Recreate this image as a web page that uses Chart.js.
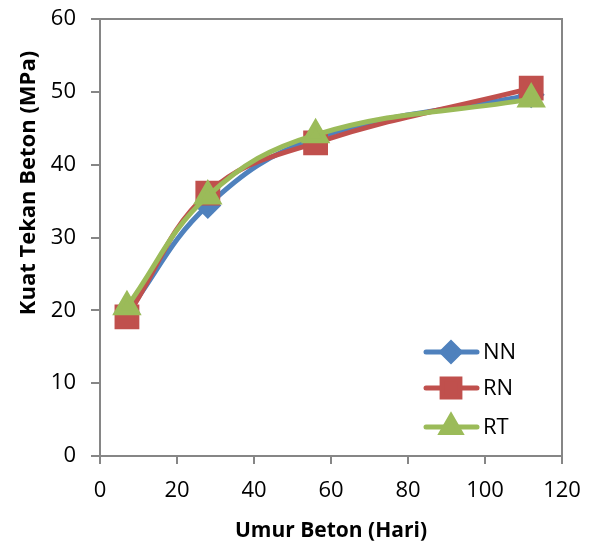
<!DOCTYPE html>
<html>
<head>
<meta charset="utf-8">
<script src="https://cdn.jsdelivr.net/npm/chart.js@4.4.0/dist/chart.umd.min.js"></script>
<style>
  html, body { margin: 0; padding: 0; background: #fff; }
  #wrap { width: 594px; height: 544px; }
</style>
</head>
<body>
<div id="wrap"><canvas id="myChart" width="594" height="544"></canvas></div>
<script>
// umur beton (hari) and kuat tekan (MPa)
const days = [7, 28, 56, 112];
const nnValues = [19.6, 34.4, 43.6, 49.6];
const rnValues = [19.1, 36.1, 43.0, 50.5];
const rtValues = [20.5, 35.7, 44.1, 49.0];
const seriesNames = ['NN', 'RN', 'RT'];
const xTicks = [0, 20, 40, 60, 80, 100, 120];
const yTicks = [0, 10, 20, 30, 40, 50, 60];

const axisGray = '#868686';
const fontFamily = "'Open Sans', 'Liberation Sans', sans-serif";

function toPoints(vals) {
    return days.map((d, i) => ({ x: d, y: vals[i] }));
}

// plot box + y title + legend inside the plot
const extras = {
    id: 'extras',
    afterDraw(chart) {
        const c = chart.ctx;
        const a = chart.chartArea;
        c.save();
        c.strokeStyle = axisGray;
        c.lineWidth = 2;
        c.strokeRect(a.left, a.top, a.right - a.left, a.bottom - a.top);

        c.fillStyle = '#000';
        c.font = "bold 22px " + fontFamily;
        c.textAlign = 'center';
        c.textBaseline = 'middle';
        c.translate(29, 183);
        c.rotate(-Math.PI / 2);
        c.fillText('Kuat Tekan Beton (MPa)', 0, 0);
        c.restore();

        const rows = [352, 388, 427];
        const sets = chart.data.datasets;
        seriesNames.forEach((name, i) => {
            const ds = sets[i];
            const y = rows[i];
            c.save();
            c.strokeStyle = ds.borderColor;
            c.lineWidth = 5;
            c.lineCap = 'round';
            c.beginPath();
            c.moveTo(426, y);
            c.lineTo(477, y);
            c.stroke();
            c.fillStyle = ds.pointBackgroundColor;
            c.strokeStyle = ds.pointBorderColor;
            Chart.helpers.drawPoint(c, {
                pointStyle: ds.pointStyle,
                radius: ds.pointRadius * 0.9,
                rotation: 0,
                borderWidth: 1
            }, 451, y);
            c.fillStyle = '#000';
            c.font = "22px " + fontFamily;
            c.textAlign = 'left';
            c.textBaseline = 'middle';
            c.fillText(name, 483, y + 1);
            c.restore();
        });
    }
};

const ctx = document.getElementById('myChart').getContext('2d');
const myChart = new Chart(ctx, {
    type: 'line',
    data: {
        datasets: [{
            label: seriesNames[0],
            data: toPoints(nnValues),
            borderColor: '#4F81BD',
            backgroundColor: '#4F81BD',
            pointBackgroundColor: '#4F81BD',
            pointBorderColor: '#4F81BD',
            pointStyle: 'rectRot',
            pointRadius: 10,
            borderWidth: 5,
            tension: 0.4,
            order: 2
        },
        {
            label: seriesNames[1],
            data: toPoints(rnValues),
            borderColor: '#C0504D',
            backgroundColor: '#C0504D',
            pointBackgroundColor: '#C0504D',
            pointBorderColor: '#C0504D',
            pointStyle: 'rect',
            pointRadius: 14,
            borderWidth: 5,
            tension: 0.4,
            order: 1
        },
        {
            label: seriesNames[2],
            data: toPoints(rtValues),
            borderColor: '#9BBB59',
            backgroundColor: '#9BBB59',
            pointBackgroundColor: '#9BBB59',
            pointBorderColor: '#9BBB59',
            pointStyle: 'triangle',
            pointRadius: 12,
            borderWidth: 5,
            tension: 0.4,
            order: 0
        }]
    },
    options: {
        responsive: false,
        animation: false,
        layout: { padding: { top: 14, right: 32, left: 0, bottom: 0 } },
        plugins: {
            legend: { display: false },
            tooltip: { enabled: false }
        },
        scales: {
            x: {
                type: 'linear',
                min: 0,
                max: 120,
                afterBuildTicks: (s) => { s.ticks = xTicks.map(v => ({ value: v })); },
                afterFit: (s) => { s.height = 88; s.paddingLeft = 0; s.paddingRight = 0; },
                grid: { drawOnChartArea: false, drawTicks: true, tickLength: 8, color: axisGray, lineWidth: 2 },
                border: { color: axisGray, width: 2 },
                ticks: { color: '#000', padding: 14, maxRotation: 0, font: { family: fontFamily, size: 22 } },
                title: { display: true, text: 'Umur Beton (Hari)', color: '#000', padding: { top: 4, bottom: 0 }, font: { family: fontFamily, size: 21, weight: 'bold' } }
            },
            y: {
                min: 0,
                max: 60,
                afterBuildTicks: (s) => { s.ticks = yTicks.map(v => ({ value: v })); },
                afterFit: (s) => { s.width = 100; s.paddingTop = 0; s.paddingBottom = 0; },
                grid: { drawOnChartArea: false, drawTicks: true, tickLength: 9, color: axisGray, lineWidth: 2 },
                border: { color: axisGray, width: 2 },
                ticks: { color: '#000', padding: 15, font: { family: fontFamily, size: 22 } }
            }
        }
    },
    plugins: [extras]
});
</script>
</body>
</html>
